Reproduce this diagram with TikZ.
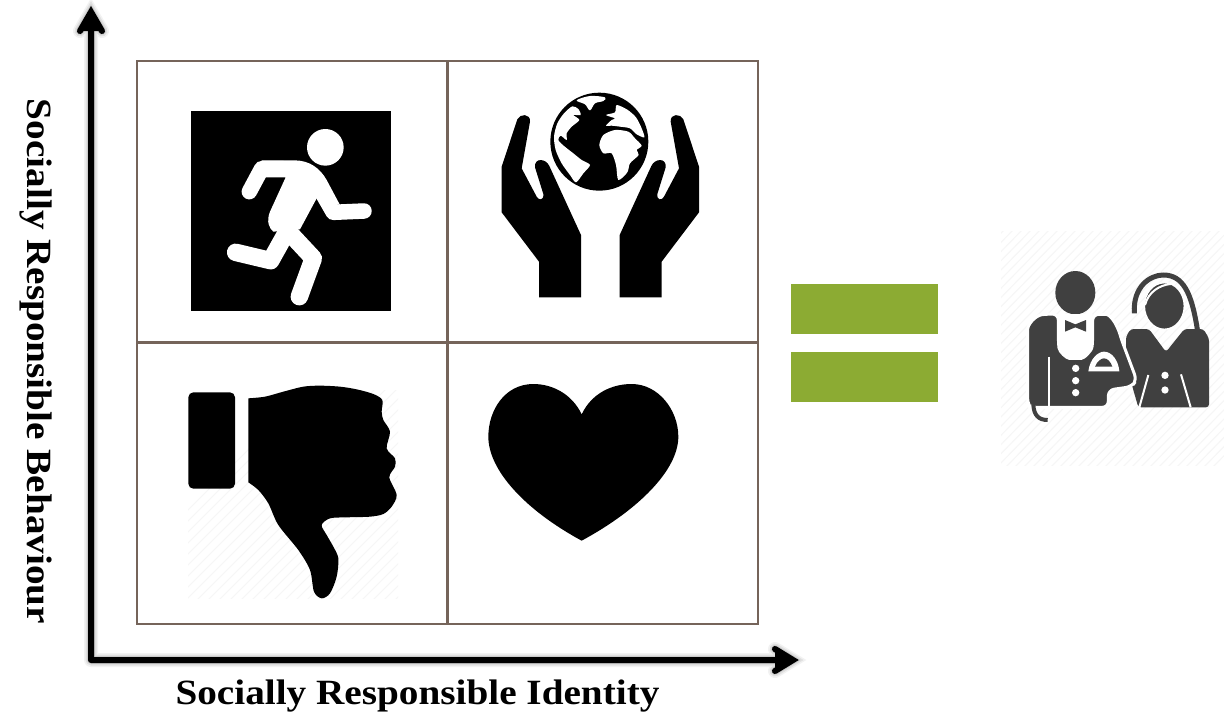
\documentclass[tikz,border=0pt]{standalone}
\usepackage{fontspec}
\setmainfont{Liberation Serif}
\definecolor{gridbrown}{HTML}{75645A}
\definecolor{eqgreen}{HTML}{8CAB33}
\definecolor{waiter}{HTML}{404040}
\definecolor{hatch}{HTML}{F6F6F6}
\newcommand{\axisshape}{
  (org) -- (ytip) (ybl) -- (ytip) -- (ybr) (org) -- (xtip) (xbl) -- (xtip) -- (xbr)
}
\newcommand{\handshape}{
  (112,118) -- (65,260) -- (65,397) -- (177,545) -- (177,652) -- (303,652) -- (303,465)
  -- (208,258) .. controls (198,235) and (162,232) .. (165,262) -- (190,342)
  .. controls (192,362) and (176,362) .. (170,350) -- (125,265) -- (150,125)
  .. controls (152,100) and (120,100) .. (112,118) -- cycle
}
\newcommand{\stretched}[1]{\scalebox{1.105}[1]{#1}}
\tikzset{
  px/.style={x=1pt,y=-1pt},
  zoomed/.style={x=0.33333pt,y=-0.33333pt},
  cellgrid/.style={draw=gridbrown,line width=2.5pt},
  eqbar/.style={fill=eqgreen},
  axisline/.style={line width=6pt,line cap=round,line join=miter,miter limit=10},
  axislabel/.style={font=\fontsize{35.5}{38}\selectfont\bfseries,text=black,inner sep=0pt},
  limb/.style={draw=white,line width=15.5pt,line cap=round,line join=round},
  limbwide/.style={draw=white,line width=17.5pt,line cap=round,line join=round}
}
\begin{document}
\begin{tikzpicture}[px]
\useasboundingbox (0,0) rectangle (1224,716);
\fill[white] (0,0) rectangle (1224,716);

% named points of the axes
\coordinate (org) at (91,660);
\coordinate (ytip) at (91,12);
\coordinate (ybl) at (80,31);
\coordinate (ybr) at (102,31);
\coordinate (xtip) at (793,660);
\coordinate (xbl) at (775,649);
\coordinate (xbr) at (775,671);

% axis shadow
\begin{scope}[shift={(3,5)}]
  \foreach \w/\o in {14/0.05,11/0.07,8/0.09,6/0.12}{
    \draw[axisline,line width=\w pt,black,opacity=\o] \axisshape;
  }
\end{scope}

% grid
\draw[cellgrid] (137,61) rectangle (758,624);
\draw[cellgrid] (447.5,61) -- (447.5,624);
\draw[cellgrid] (137,342.5) -- (758,342.5);

% axes
\draw[axisline] \axisshape;
\fill (ytip) -- (ybl) -- (ybr) -- cycle;
\fill (xtip) -- (xbl) -- (xbr) -- cycle;

% labels
\node[axislabel] (xlabel) at (417.5,696.5) {\stretched{Socially Responsible Identity}};
\node[axislabel,rotate=-90] (ylabel) at (36,361.5) {\stretched{Socially Responsible Behaviour}};

% runner
\begin{scope}[shift={(170,90)},zoomed]
  \fill[black] (63,63) rectangle (663,663);
  \fill[white] (466,172) circle[radius=55];
  \fill[white] (347,262) -- (300,365) .. controls (288,395) and (298,415) .. (310,425)
    -- (390,418) -- (440,325) -- (510,345) -- (470,270)
    .. controls (450,235) and (420,212) .. (375,211) -- (275,211) -- (270,262) -- cycle;
  \draw[limb] (238,305) -- (275,236) -- (340,236);
  \draw[limb] (440,280) -- (490,367) -- (582,363);
  \draw[limbwide] (197,487) -- (302,512) -- (345,435);
  \draw[limbwide] (388,620) -- (430,505) -- (360,430);
\end{scope}

% hands and globe
\begin{scope}[shift={(480,80)},zoomed]
  \fill[black] \handshape;
  \begin{scope}[xshift=240.67pt,xscale=-1]
    \fill[black] \handshape;
  \end{scope}
\end{scope}
\begin{scope}[shift={(540,85)},zoomed]
  \fill[black] (178,170) circle[radius=147];
  \fill[white] plot[smooth cycle,tension=0.55] coordinates {(110,46) (150,33) (195,37) (190,48) (165,55) (150,76) (135,58)};
  \fill[white] plot[smooth cycle,tension=0.45] coordinates {(97,64) (115,72) (122,90) (100,90) (118,105) (95,125) (80,145) (80,165) (62,152) (55,165) (72,183) (100,205) (125,225) (150,240) (130,265) (108,292) (90,270) (65,235) (47,195) (42,155) (52,115) (72,85)};
  \fill[black] plot[smooth cycle] coordinates {(60,155) (70,165) (80,178) (72,180) (58,168)};
  \fill[white] plot[smooth cycle,tension=0.45] coordinates {(230,60) (262,74) (288,97) (305,130) (313,157) (290,148) (270,130) (240,125) (215,122) (198,122) (215,105) (225,100) (198,90) (225,82)};
  \fill[white] plot[smooth cycle,tension=0.45] coordinates {(190,150) (225,135) (265,140) (285,160) (305,182) (290,195) (296,210) (270,235) (262,262) (235,285) (228,240) (215,205) (190,205) (178,180)};
\end{scope}

% thumb down
\begin{scope}
  \clip (188,390) rectangle (398,598);
  \foreach \i in {0,...,42}{
    \draw[hatch,line width=0.9pt] (188+\i*11-100,610) -- (188+\i*11+130,380);
  }
\end{scope}
\begin{scope}[shift={(170,370)},zoomed]
  \fill[black,rounded corners=5pt] (55,67) rectangle (195,356);
  \fill[black] plot[smooth,tension=0.5] coordinates {(235,85) (285,80) (340,65) (400,50) (450,47) (510,50) (560,58) (610,72) (637,90) (635,125) (640,150) (660,185) (650,235) (675,265) (675,290) (658,322) (680,375) (665,410) (640,432) (600,440) (530,442) (480,445) (455,465) (470,495) (490,530) (505,565) (500,620) (480,670) (455,685) (432,665) (420,600) (385,540) (325,465) (295,400) (265,360) (235,337)} -- cycle;
\end{scope}

% heart
\begin{scope}[shift={(475,370)},zoomed]
  \fill[black] (320,133) .. controls (290,70) and (230,42) .. (175,42)
    .. controls (90,42) and (40,120) .. (40,200)
    .. controls (40,300) and (150,420) .. (320,512)
    .. controls (490,420) and (610,300) .. (610,200)
    .. controls (610,120) and (550,42) .. (470,42)
    .. controls (410,42) and (350,70) .. (320,133) -- cycle;
\end{scope}

% equals
\fill[eqbar] (791,284) rectangle (938,334);
\fill[eqbar] (791,352) rectangle (938,402);

% staff icon backdrop
\begin{scope}
  \clip (1001,231) rectangle (1224,465);
  \foreach \i in {0,...,50}{
    \draw[hatch,line width=1pt] (1000+\i*9-240,470) -- (1000+\i*9,225);
  }
\end{scope}
\begin{scope}[shift={(1000,230)},zoomed]
  % woman
  \draw[waiter,line width=5pt] (403,250) .. controls (398,170) and (450,135) .. (490,135)
    .. controls (550,135) and (575,190) .. (592,298);
  \draw[white,line width=1.5pt,fill=waiter] (493,228) ellipse[x radius=60,y radius=70];
  \draw[white,line width=2pt] (435,225) .. controls (445,185) and (480,165) .. (512,162);
  \fill[waiter,rounded corners=3pt] (378,320) -- (392,297) -- (447,297) -- (498,366) -- (553,297)
    -- (610,297) -- (627,325) -- (627,532) -- (415,532) -- (400,480) -- (378,400) -- cycle;
  \draw[white,line width=2pt] (445,435) -- (418,532);
  \draw[white,line width=2pt] (543,433) -- (572,532);
  \fill[white] (495,436) circle[radius=11];
  \fill[white] (495,480) circle[radius=11];
  % man
  \fill[waiter] (226,188) ellipse[x radius=60,y radius=65];
  \draw[white,line width=3pt,fill=waiter,rounded corners=6pt]
    (175,252) -- (145,252) .. controls (105,256) and (83,285) .. (83,315) -- (83,525) -- (90,532)
    -- (325,532) -- (325,480) -- (395,470) -- (410,450) -- (365,330)
    .. controls (350,280) and (330,253) .. (300,253) -- (278,253) -- (278,330)
    .. controls (275,365) and (250,385) .. (226,385) .. controls (200,385) and (178,365) .. (175,335) -- cycle;
  \fill[white] (175,252) -- (278,252) -- (278,330) .. controls (275,365) and (250,385) .. (226,385)
    .. controls (200,385) and (178,365) .. (175,335) -- cycle;
  \fill[waiter] (195,270) -- (226,283) -- (258,270) -- (258,305) -- (226,292) -- (195,305) -- cycle;
  \draw[white,line width=2pt] (148,380) -- (148,532);
  \fill[white] (227,415) circle[radius=11];
  \fill[white] (227,452) circle[radius=11];
  \fill[white] (227,488) circle[radius=11];
  \fill[white] (265,424) .. controls (270,385) and (295,365) .. (312,365)
    .. controls (335,365) and (355,390) .. (358,424) -- cycle;
  \fill[waiter] (285,410) .. controls (292,392) and (305,385) .. (312,385)
    .. controls (322,385) and (332,395) .. (337,410) -- cycle;
  \draw[waiter,line width=4pt] (100,525) .. controls (102,555) and (115,570) .. (143,570);
\end{scope}
\end{tikzpicture}
\end{document}
